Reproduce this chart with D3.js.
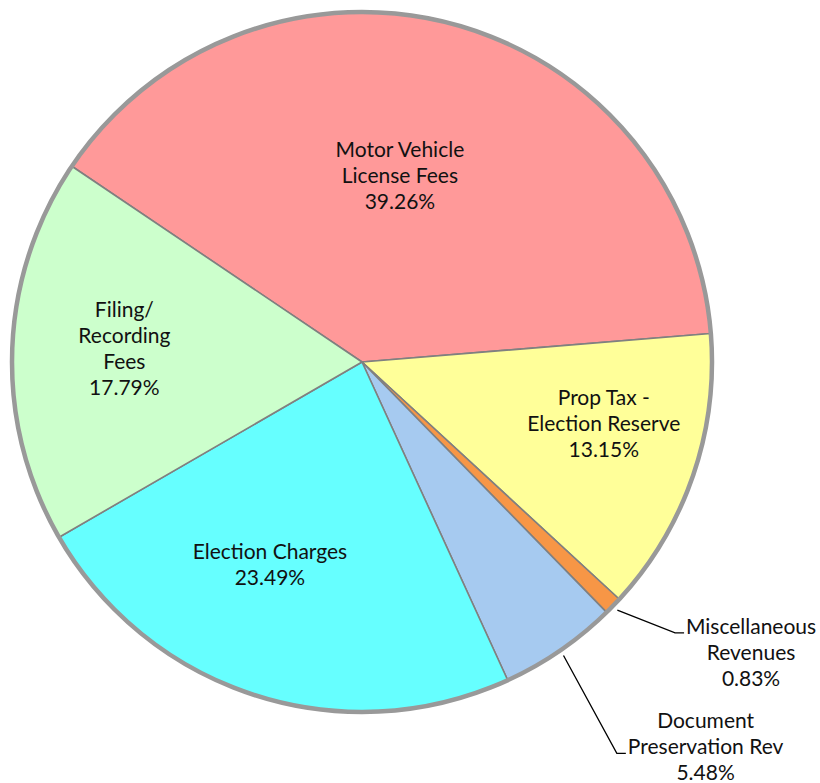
<!DOCTYPE html>
<html>
<head>
<meta charset="utf-8">
<script src="https://cdn.jsdelivr.net/npm/d3@7"></script>
<style>
  body { margin: 0; background: #fff; }
  svg text { font-family: Lato, "Open Sans", sans-serif; font-size: 21px; fill: #111; }
</style>
</head>
<body>
<div id="chart"></div>
<script>
// slices, clockwise from the upper-left divider
const categories = ["Motor Vehicle License Fees", "Prop Tax - Election Reserve", "Miscellaneous Revenues",
  "Document Preservation Rev", "Election Charges", "Filing/ Recording Fees"];
const labelLines = [
  ["Motor Vehicle", "License Fees"],
  ["Prop Tax -", "Election Reserve"],
  ["Miscellaneous", "Revenues"],
  ["Document", "Preservation Rev"],
  ["Election Charges"],
  ["Filing/", "Recording", "Fees"]
];
const shares = [39.26, 13.15, 0.83, 5.48, 23.49, 17.79];
const colors = ["#FF9999", "#FFFF99", "#F79646", "#A6CAF0", "#66FFFF", "#CCFFCC"];

const width = 820, height = 783;
const cx = 362, cy = 362, radius = 350;
const startAngle = -56 * Math.PI / 180;
const rad = d => d * Math.PI / 180;

// inside labels: polar placement (radius, angle nudge in degrees); outside ones use a leader
const labelStyle = [
  { r: 189, nudge: -3.1 },
  { r: 250, nudge: -4.3 },
  { out: true, elbowR: 414, elbowNudge: -3.3, widest: 0 },
  { out: true, elbowR: 467, elbowNudge: 1.4, widest: 1 },
  { r: 224, nudge: 6.6 },
  { r: 238, nudge: 1.0 }
];

const svg = d3.select("#chart").append("svg")
  .attr("width", width)
  .attr("height", height);

const g = svg.append("g")
  .attr("transform", "translate(" + cx + "," + cy + ")");

const pie = d3.pie()
  .sort(null)
  .value(d => d)
  .startAngle(startAngle)
  .endAngle(startAngle + 2 * Math.PI);

const arcs = pie(shares);

const arc = d3.arc()
  .innerRadius(0)
  .outerRadius(radius);

g.selectAll("path.slice")
  .data(arcs)
  .enter().append("path")
  .attr("class", "slice")
  .attr("d", arc)
  .attr("fill", (d, i) => colors[i])
  .attr("stroke", "#808080")
  .attr("stroke-width", 1.6)
  .attr("stroke-linejoin", "round");

g.append("circle")
  .attr("r", radius)
  .attr("fill", "none")
  .attr("stroke", "#999")
  .attr("stroke-width", 4.5);

const lineH = 26;
const polar = (r, a) => [r * Math.sin(a), -r * Math.cos(a)];

arcs.forEach((d, i) => {
  const st = labelStyle[i];
  const mid = (d.startAngle + d.endAngle) / 2;
  const lines = labelLines[i].concat([shares[i].toFixed(2) + "%"]);

  if (!st.out) {
    const [x, y] = polar(st.r, mid + rad(st.nudge));
    const top = y - (lines.length * lineH) / 2 + 19;
    const t = g.append("text").attr("text-anchor", "middle");
    lines.forEach((ln, k) => {
      t.append("tspan").attr("x", x).attr("y", top + k * lineH).text(ln);
    });
    return;
  }

  const p0 = polar(radius + 6, mid);
  const p1 = polar(st.elbowR, mid + rad(st.elbowNudge));
  const p2 = [p1[0] + 9, p1[1]];
  g.append("polyline")
    .attr("points", [p0, p1, p2].map(p => p.join(",")).join(" "))
    .attr("fill", "none")
    .attr("stroke", "#000")
    .attr("stroke-width", 1.3);

  const t = g.append("text").attr("text-anchor", "middle");
  const spans = lines.map(ln => t.append("tspan").text(ln));
  const wide = spans[st.widest].node().getComputedTextLength();
  const x = p2[0] + 2 + wide / 2;
  const y0 = p1[1] + 1 - st.widest * lineH;
  spans.forEach((s, k) => s.attr("x", x).attr("y", y0 + k * lineH));
});
</script>
</body>
</html>
